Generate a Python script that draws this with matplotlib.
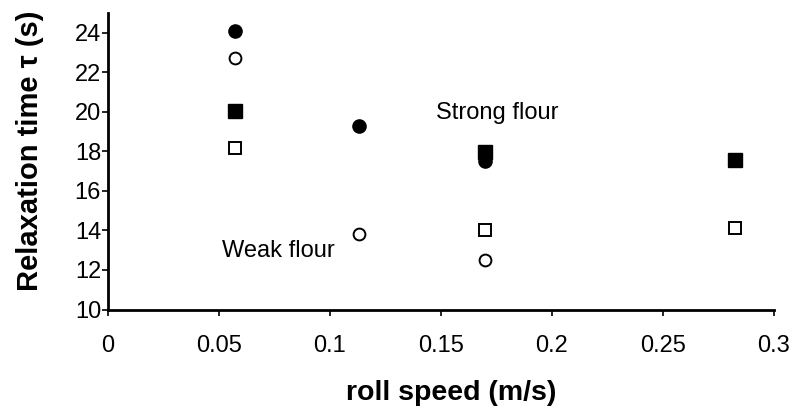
import matplotlib
matplotlib.use("Agg")
import matplotlib.pyplot as plt

plt.rcParams['font.family'] = ['Liberation Sans', 'DejaVu Sans']

# roll speeds (m/s) and relaxation times (s)
speed_filled_circle = [0.057, 0.113, 0.170]
tau_filled_circle = [24.1, 19.3, 17.5]

speed_open_circle = [0.057, 0.113, 0.170]
tau_open_circle = [22.75, 13.8, 12.5]

speed_filled_square = [0.057, 0.170, 0.2825]
tau_filled_square = [20.05, 17.95, 17.55]

speed_open_square = [0.057, 0.170, 0.2825]
tau_open_square = [18.15, 14.0, 14.1]

x_ticks = [0, 0.05, 0.1, 0.15, 0.2, 0.25, 0.3]
x_tick_labels = ['0', '0.05', '0.1', '0.15', '0.2', '0.25', '0.3']
y_ticks = [10, 12, 14, 16, 18, 20, 22, 24]

fig = plt.figure(figsize=(7.98, 4.08), dpi=100)
ax = fig.add_axes([0.1353, 0.2414, 0.8346, 0.7266])

ax.plot(speed_filled_circle, tau_filled_circle, 'o', ms=9.5, mfc='black', mec='black', ls='none')
ax.plot(speed_open_circle, tau_open_circle, 'o', ms=8.5, mfc='white', mec='black', mew=1.4, ls='none')
ax.plot(speed_filled_square, tau_filled_square, 's', ms=9.5, mfc='black', mec='black', ls='none')
ax.plot(speed_open_square, tau_open_square, 's', ms=8.5, mfc='white', mec='black', mew=1.4, ls='none')

ax.text(0.1476, 19.95, 'Strong flour', fontsize=17, va='center', ha='left')
ax.text(0.0514, 12.98, 'Weak flour', fontsize=17, va='center', ha='left')

ax.set_xlim(0, 0.3)
ax.set_ylim(10, 25)
ax.set_xticks(x_ticks)
ax.set_xticklabels(x_tick_labels)
ax.set_yticks(y_ticks)
ax.tick_params(axis='both', labelsize=17, direction='out', length=4, width=1.2)
ax.tick_params(axis='x', pad=14)
ax.tick_params(axis='y', pad=1)

for s in ['top', 'right']:
    ax.spines[s].set_visible(False)
for s in ['left', 'bottom']:
    ax.spines[s].set_linewidth(2)

ax.set_xlabel('roll speed (m/s)', fontsize=20.5, fontweight='bold', va='center')
ax.set_ylabel('Relaxation time τ (s)', fontsize=21, fontweight='bold', va='center')
ax.xaxis.set_label_coords(0.515, -0.28)
ax.yaxis.set_label_coords(-0.117, 0.535)

fig.savefig('out.png', dpi=100)
